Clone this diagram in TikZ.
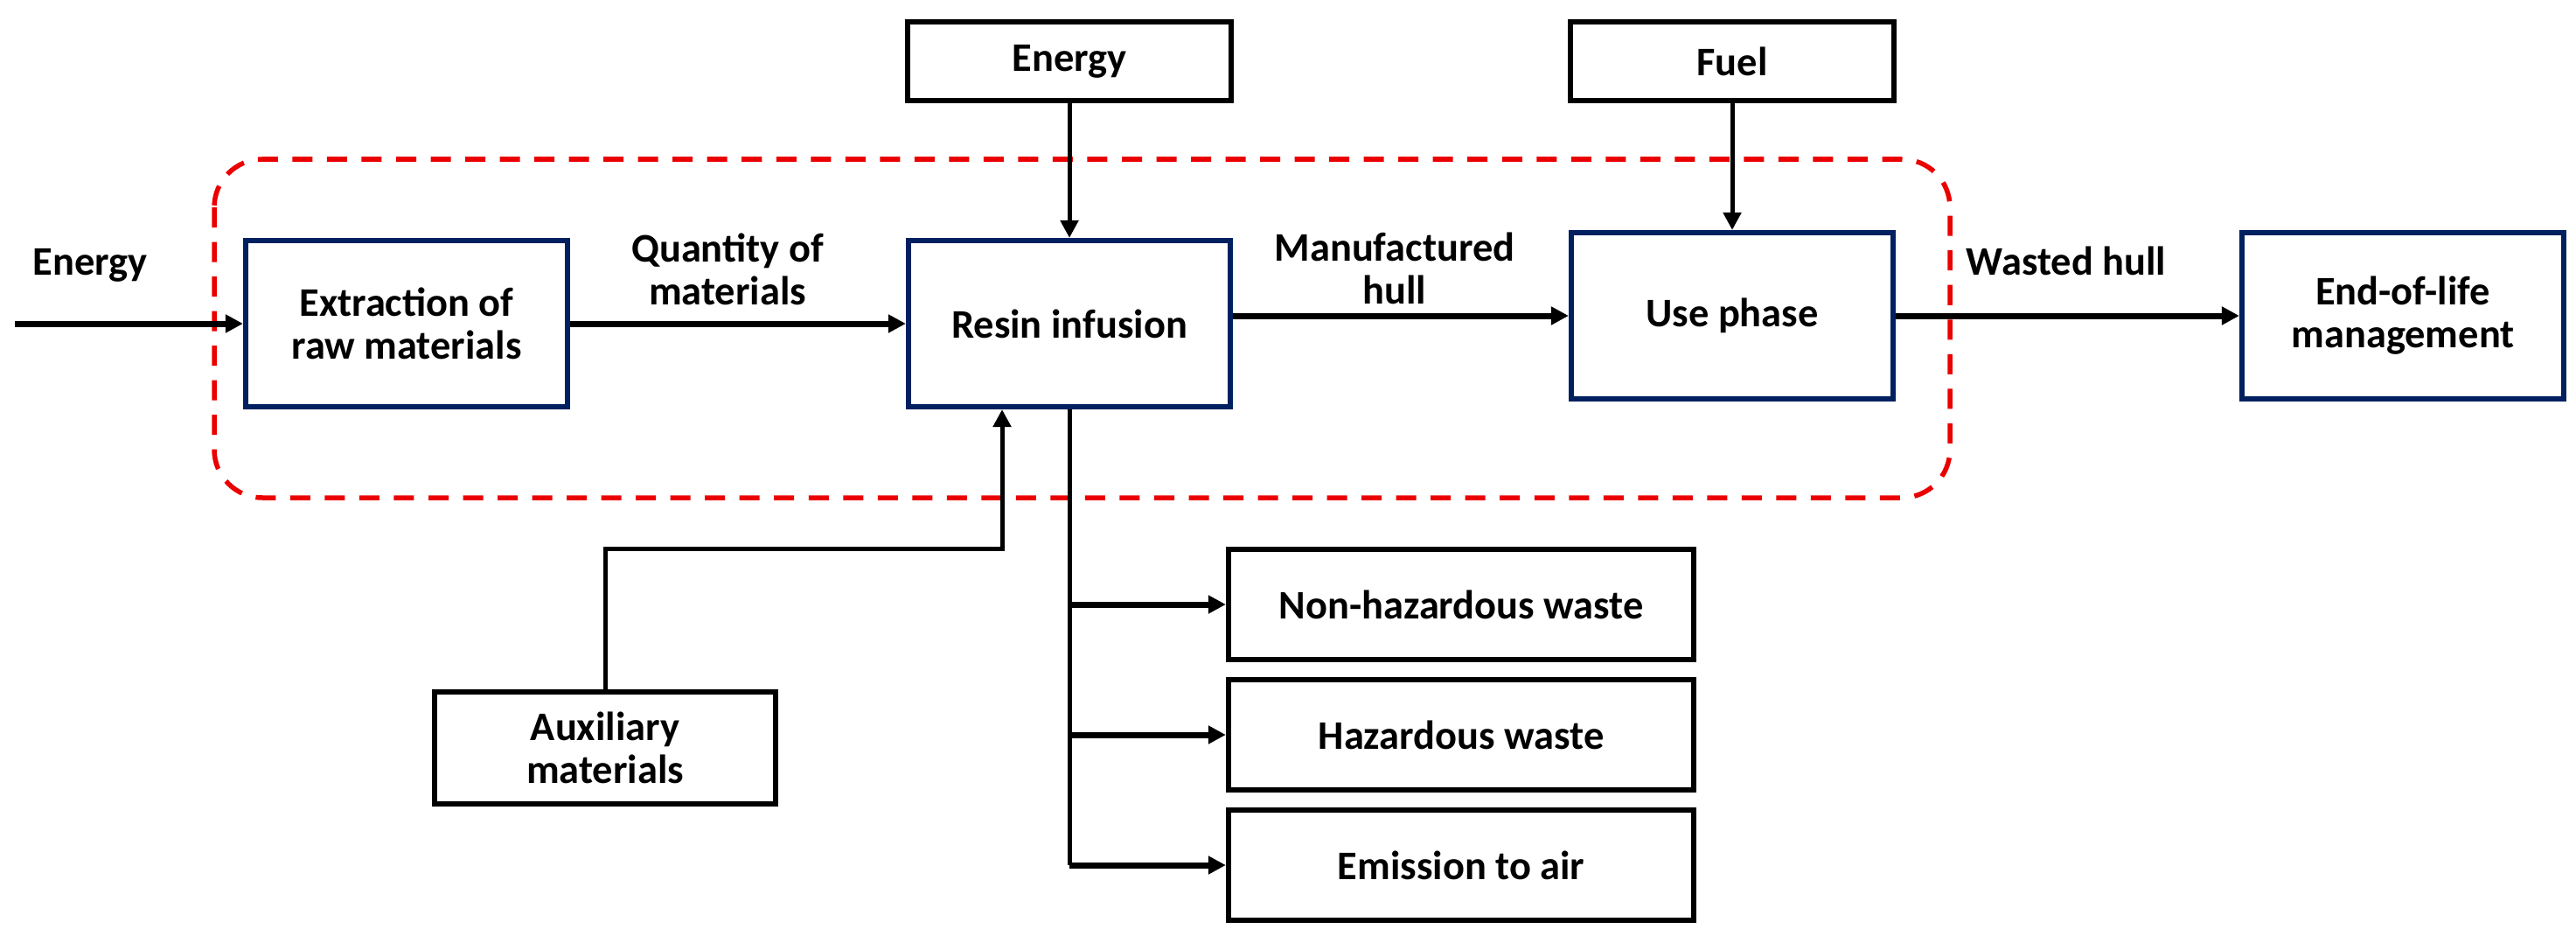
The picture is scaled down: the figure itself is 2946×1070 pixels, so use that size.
\documentclass[tikz,border=0pt]{standalone}
\usepackage{fontspec}
\setmainfont{Carlito}
\usetikzlibrary{arrows.meta,calc}
\definecolor{navy}{RGB}{0,32,96}
\definecolor{dashred}{RGB}{235,0,0}
\begin{document}
\begin{tikzpicture}[x=0.01cm,y=-0.01cm,
  every node/.style={font=\fontsize{13.2pt}{14pt}\selectfont\bfseries, align=center},
  procbox/.style={draw=navy, line width=0.6mm, minimum width=36.8mm, minimum height=19mm, inner sep=0pt},
  inbox/.style={draw=black, line width=0.6mm, inner sep=0pt},
  arr/.style={line width=0.6mm, -{Triangle[length=2mm,width=2mm]}},
  harr/.style={arr, line width=0.7mm},
  plain/.style={line width=0.5mm},
  sysbound/.style={draw=dashred, line width=0.55mm, dash pattern=on 2.3mm off 1.65mm, rounded corners=5.5mm}]
\useasboundingbox (0,0) rectangle (2946,1070);

% system boundary
\draw[sysbound] (245,182) rectangle (2230,569);

% process boxes
\node[procbox] (ext) at (465,370) {Extraction of\\raw materials};
\node[procbox] (resin) at (1223,370) {Resin infusion};
\node[procbox] (use) at (1981,361) {Use phase};
\node[procbox] (eol) at (2748,361) {End-of-life\\management};

% input boxes
\node[inbox, minimum width=36.9mm, minimum height=9mm] (energy) at (1223,70) {Energy};
\node[inbox, minimum width=37mm, minimum height=9mm] (fuel) at (1981,70) {Fuel};
\node[inbox, minimum width=39mm, minimum height=12.7mm] (aux) at (692,855) {Auxiliary\\materials};

% output boxes
\node[inbox, minimum width=53.2mm, minimum height=12.5mm] (nh) at (1671,691) {Non-hazardous waste};
\node[inbox, minimum width=53.2mm, minimum height=12.5mm] (hz) at (1671,840) {Hazardous waste};
\node[inbox, minimum width=53.2mm, minimum height=12.5mm] (em) at (1671,989) {Emission to air};

% flow labels
\node (lenergy) at (103,303) {Energy};
\node (lqty) at (832,308) {Quantity of\\materials};
\node (lman) at (1595,307) {Manufactured\\hull};
\node (lwaste) at (2363,298) {Wasted hull};

% main flows
\coordinate (start) at (17,370);
\draw[harr] (start) -- (ext.west);
\draw[harr] (ext.east) -- (resin.west);
\draw[harr] (resin.east |- use.west) -- (use.west);
\draw[harr] (use.east) -- (eol.west);

% inputs
\draw[arr, line width=0.5mm] (energy.south) -- (resin.north);
\draw[arr, line width=0.5mm] (fuel.south) -- (use.north);
\coordinate (auxbend) at (1146,627);
\draw[arr, line width=0.5mm] (aux.north) |- (auxbend) -- (auxbend |- resin.south);

% outputs
\draw[plain] (resin.south) -- (resin.south |- em.west);
\draw[harr] (resin.south |- nh.west) -- (nh.west);
\draw[harr] (resin.south |- hz.west) -- (hz.west);
\draw[harr] (resin.south |- em.west) -- (em.west);
\end{tikzpicture}
\end{document}
